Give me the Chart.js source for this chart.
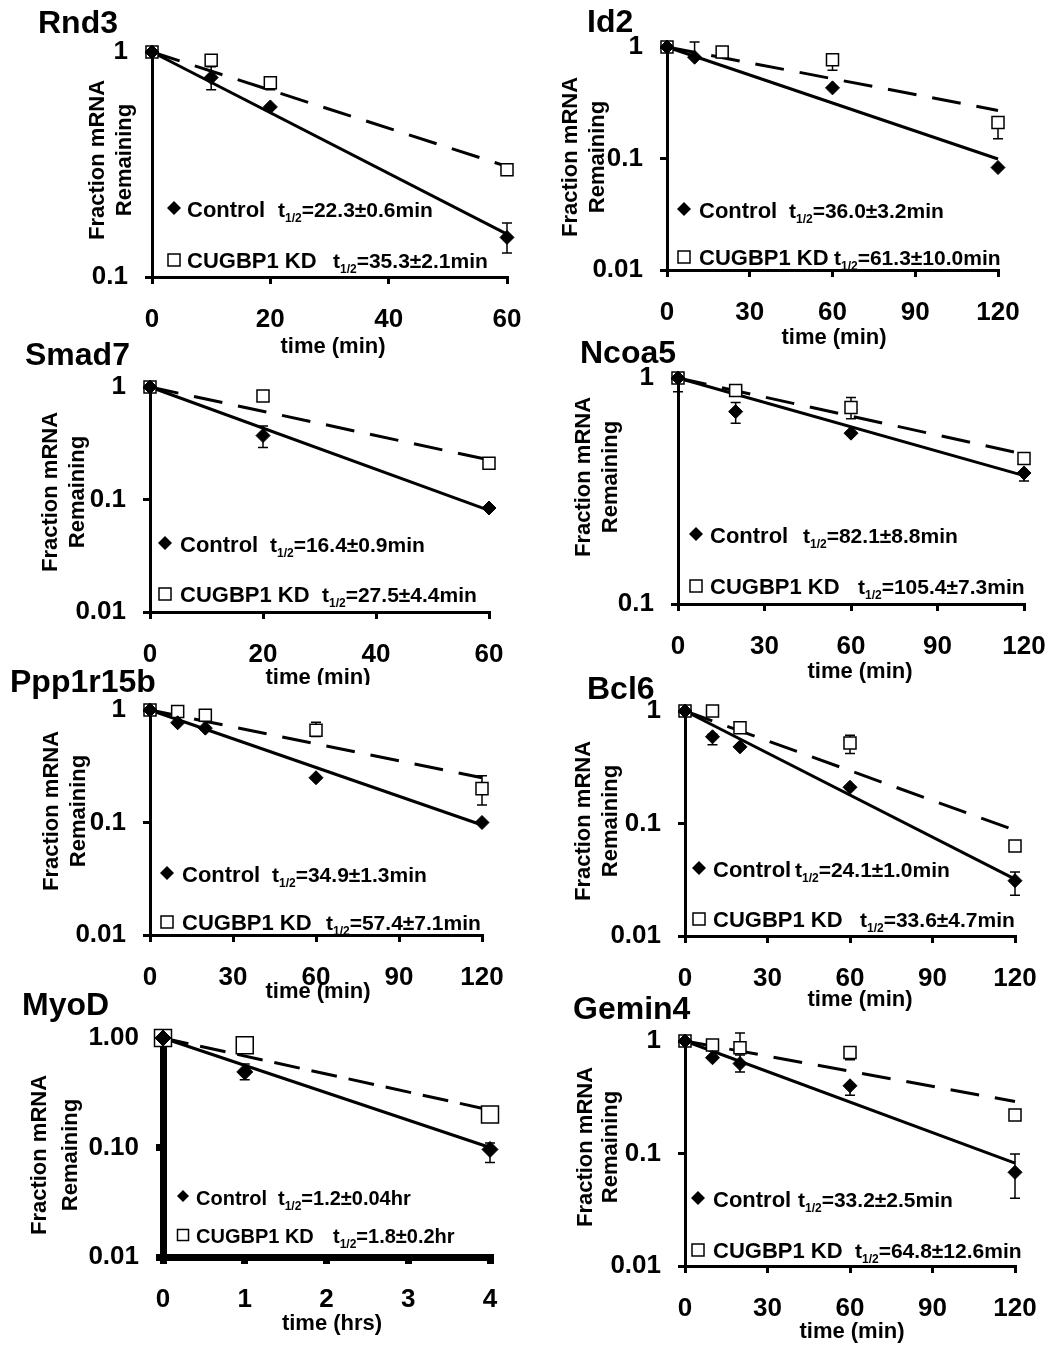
<!DOCTYPE html>
<html>
<head>
<meta charset="utf-8">
<title>mRNA decay</title>
<script src="https://cdn.jsdelivr.net/npm/chart.js@4.4.1/dist/chart.umd.min.js"></script>
<style>
  html, body { margin: 0; padding: 0; background: #fff; }
  body { width: 1062px; height: 1351px; position: relative; overflow: hidden; }
  canvas { position: absolute; }
</style>
</head>
<body>
<canvas id="rnd3"></canvas>
<canvas id="id2"></canvas>
<canvas id="smad7"></canvas>
<canvas id="ncoa5"></canvas>
<canvas id="ppp1r15b"></canvas>
<canvas id="bcl6"></canvas>
<canvas id="myod"></canvas>
<canvas id="gemin4"></canvas>
<script>
// ---- data (fraction of mRNA remaining) ----
const rnd3Time = [0, 10, 20, 60];
const rnd3Control = [1, 0.77, 0.57, 0.15];
const rnd3KD = [1, 0.92, 0.73, 0.30];
const rnd3ControlErr = [null, [0.68, 0.86], null, [0.128, 0.174]];
const rnd3KDErr = [null, null, [0.68, 0.73], null];
const rnd3ControlFit = [1, 0.155];
const rnd3KDFit = [1, 0.31];
const rnd3HalfLife = ['=22.3±0.6min', '=35.3±2.1min'];

const id2Time = [0, 10, 20, 60, 120];
const id2Control = [1, 0.81, null, 0.43, 0.083];
const id2KD = [1, null, 0.90, 0.77, 0.21];
const id2ControlErr = [null, [0.81, 1.11], null, null, null];
const id2KDErr = [null, null, null, [0.62, 0.77], [0.15, 0.21]];
const id2ControlFit = [1, 0.099];
const id2KDFit = [1, 0.27];
const id2HalfLife = ['=36.0±3.2min', '=61.3±10.0min'];

const smad7Time = [0, 20, 60];
const smad7Control = [1, 0.37, 0.084];
const smad7KD = [1, 0.83, 0.21];
const smad7ControlErr = [null, [0.29, 0.45], null];
const smad7KDErr = [null, null, null];
const smad7ControlFit = [1, 0.08];
const smad7KDFit = [1, 0.225];
const smad7HalfLife = ['=16.4±0.9min', '=27.5±4.4min'];

const ncoa5Time = [0, 20, 60, 120];
const ncoa5Control = [1, 0.71, 0.57, 0.38];
const ncoa5KD = [1, 0.88, 0.74, 0.44];
const ncoa5ControlErr = [[0.87, 1], [0.63, 0.78], null, [0.35, 0.38]];
const ncoa5KDErr = [null, null, [0.66, 0.82], null];
const ncoa5ControlFit = [1, 0.37];
const ncoa5KDFit = [1, 0.46];
const ncoa5HalfLife = ['=82.1±8.8min', '=105.4±7.3min'];

const pppTime = [0, 10, 20, 60, 120];
const pppControl = [1, 0.77, 0.69, 0.25, 0.10];
const pppKD = [1, 0.97, 0.90, 0.66, 0.20];
const pppControlErr = [null, null, null, null, null];
const pppKDErr = [null, null, null, [0.58, 0.78], [0.143, 0.26]];
const pppControlFit = [1, 0.095];
const pppKDFit = [1, 0.25];
const pppHalfLife = ['=34.9±1.3min', '=57.4±7.1min'];

const bcl6Time = [0, 10, 20, 60, 120];
const bcl6Control = [1, 0.59, 0.48, 0.21, 0.031];
const bcl6KD = [1, 1.0, 0.71, 0.52, 0.063];
const bcl6ControlErr = [null, [0.50, 0.62], null, null, [0.023, 0.037]];
const bcl6KDErr = [null, null, null, [0.42, 0.61], null];
const bcl6ControlFit = [1, 0.032];
const bcl6KDFit = [1, 0.087];
const bcl6HalfLife = ['=24.1±1.0min', '=33.6±4.7min'];

const myodTime = [0, 1, 4];
const myodControl = [1, 0.49, 0.096];
const myodKD = [1, 0.86, 0.20];
const myodControlErr = [null, [0.415, 0.58], [0.073, 0.11]];
const myodKDErr = [null, null, null];
const myodControlFit = [1, 0.10];
const myodKDFit = [1, 0.22];
const myodHalfLife = ['=1.2±0.04hr', '=1.8±0.2hr'];

const gemin4Time = [0, 10, 20, 60, 120];
const gemin4Control = [1, 0.71, 0.63, 0.40, 0.068];
const gemin4KD = [1, 0.92, 0.87, 0.79, 0.22];
const gemin4ControlErr = [null, null, [0.53, 0.75], [0.33, 0.40], [0.040, 0.099]];
const gemin4KDErr = [null, null, [0.87, 1.18], [0.68, 0.79], null];
const gemin4ControlFit = [1, 0.082];
const gemin4KDFit = [1, 0.29];
const gemin4HalfLife = ['=33.2±2.5min', '=64.8±12.6min'];

// tick values / labels
const yTicksOne = [0.1, 1];
const yLabelsOne = ['0.1', '1'];
const yTicksTwo = [0.01, 0.1, 1];
const yLabelsTwo = ['0.01', '0.1', '1'];
const yLabelsMyod = ['0.01', '0.10', '1.00'];

const FONT = "'Liberation Sans', Arial, sans-serif";
Chart.defaults.font.family = FONT;
Chart.defaults.color = '#000';

// ---- panel layout (page pixels); canvases are wide so the x labels never squeeze the plot ----
const panels = [
  { id: 'rnd3', title: 'Rnd3', box: [0, 0, 580, 365], plot: [152, 52, 507, 277],
    xMax: 60, xStep: 20, xTitle: 'time (min)', yMin: 0.1, yTicks: yTicksOne, yLabels: yLabelsOne,
    time: rnd3Time, ctrl: rnd3Control, kd: rnd3KD, ctrlErr: rnd3ControlErr, kdErr: rnd3KDErr,
    ctrlFit: rnd3ControlFit, kdFit: rnd3KDFit, half: rnd3HalfLife,
    titleAt: [38, 33], xTitleAt: [333, 347], yTitleAt: [98, 125, 160],
    legend: { mx: 174, nx: 187, b: [217, 268], tx: [278, 333] } },
  { id: 'id2', title: 'Id2', box: [531, 0, 580, 365], plot: [667, 47, 998, 270],
    xMax: 120, xStep: 30, xTitle: 'time (min)', yMin: 0.01, yTicks: yTicksTwo, yLabels: yLabelsTwo,
    time: id2Time, ctrl: id2Control, kd: id2KD, ctrlErr: id2ControlErr, kdErr: id2KDErr,
    ctrlFit: id2ControlFit, kdFit: id2KDFit, half: id2HalfLife,
    titleAt: [587, 32], xTitleAt: [834, 338], yTitleAt: [571, 598, 157],
    legend: { mx: 684, nx: 699, b: [218, 265], tx: [789, 834] } },
  { id: 'smad7', title: 'Smad7', box: [0, 335, 580, 350], plot: [150, 387, 489, 612],
    xMax: 60, xStep: 20, xTitle: 'time (min)', yMin: 0.01, yTicks: yTicksTwo, yLabels: yLabelsTwo,
    time: smad7Time, ctrl: smad7Control, kd: smad7KD, ctrlErr: smad7ControlErr, kdErr: smad7KDErr,
    ctrlFit: smad7ControlFit, kdFit: smad7KDFit, half: smad7HalfLife,
    titleAt: [25, 365], xTitleAt: [318, 678], yTitleAt: [51, 78, 492],
    legend: { mx: 165, nx: 180, b: [552, 602], tx: [270, 322] } },
  { id: 'ncoa5', title: 'Ncoa5', box: [531, 335, 580, 355], plot: [678, 378, 1024, 604],
    xMax: 120, xStep: 30, xTitle: 'time (min)', yMin: 0.1, yTicks: yTicksOne, yLabels: yLabelsOne,
    time: ncoa5Time, ctrl: ncoa5Control, kd: ncoa5KD, ctrlErr: ncoa5ControlErr, kdErr: ncoa5KDErr,
    ctrlFit: ncoa5ControlFit, kdFit: ncoa5KDFit, half: ncoa5HalfLife,
    titleAt: [580, 363], xTitleAt: [860, 672], yTitleAt: [584, 611, 477],
    legend: { mx: 696, nx: 710, b: [543, 594], tx: [803, 858] } },
  { id: 'ppp1r15b', title: 'Ppp1r15b', box: [0, 662, 580, 343], plot: [150, 710, 482, 935],
    xMax: 120, xStep: 30, xTitle: 'time (min)', yMin: 0.01, yTicks: yTicksTwo, yLabels: yLabelsTwo,
    time: pppTime, ctrl: pppControl, kd: pppKD, ctrlErr: pppControlErr, kdErr: pppKDErr,
    ctrlFit: pppControlFit, kdFit: pppKDFit, half: pppHalfLife,
    titleAt: [10, 692], xTitleAt: [318, 992], yTitleAt: [52, 79, 811],
    legend: { mx: 167, nx: 182, b: [882, 930], tx: [272, 326] } },
  { id: 'bcl6', title: 'Bcl6', box: [531, 662, 580, 350], plot: [685, 711, 1015, 936],
    xMax: 120, xStep: 30, xTitle: 'time (min)', yMin: 0.01, yTicks: yTicksTwo, yLabels: yLabelsTwo,
    time: bcl6Time, ctrl: bcl6Control, kd: bcl6KD, ctrlErr: bcl6ControlErr, kdErr: bcl6KDErr,
    ctrlFit: bcl6ControlFit, kdFit: bcl6KDFit, half: bcl6HalfLife,
    titleAt: [587, 699], xTitleAt: [860, 1000], yTitleAt: [584, 611, 821],
    legend: { mx: 699, nx: 713, b: [877, 927], tx: [795, 860] } },
  { id: 'myod', title: 'MyoD', box: [0, 985, 580, 366], plot: [163, 1038, 490, 1257], thick: true,
    xMax: 4, xStep: 1, xTitle: 'time (hrs)', yMin: 0.01, yTicks: yTicksTwo, yLabels: yLabelsMyod,
    time: myodTime, ctrl: myodControl, kd: myodKD, ctrlErr: myodControlErr, kdErr: myodKDErr,
    ctrlFit: myodControlFit, kdFit: myodKDFit, half: myodHalfLife,
    titleAt: [22, 1015], xTitleAt: [332, 1324], yTitleAt: [40, 71, 1155],
    legend: { mx: 183, nx: 196, b: [1205, 1243], tx: [278, 333] } },
  { id: 'gemin4', title: 'Gemin4', box: [531, 985, 580, 366], plot: [685, 1041, 1015, 1266],
    xMax: 120, xStep: 30, xTitle: 'time (min)', yMin: 0.01, yTicks: yTicksTwo, yLabels: yLabelsTwo,
    time: gemin4Time, ctrl: gemin4Control, kd: gemin4KD, ctrlErr: gemin4ControlErr, kdErr: gemin4KDErr,
    ctrlFit: gemin4ControlFit, kdFit: gemin4KDFit, half: gemin4HalfLife,
    titleAt: [573, 1019], xTitleAt: [852, 1332], yTitleAt: [586, 611, 1147],
    legend: { mx: 698, nx: 713, b: [1207, 1258], tx: [798, 855] } }
];
const panelById = {};
panels.forEach(p => { panelById[p.id] = p; });

function pts(xs, ys) {
  return xs.map((x, i) => ({ x: x, y: ys[i] })).filter(d => d.y != null);
}

function text(ctx, s, x, y, size, align) {
  ctx.font = 'bold ' + size + 'px ' + FONT;
  ctx.textAlign = align || 'left';
  ctx.textBaseline = 'alphabetic';
  ctx.fillText(s, x, y);
  return ctx.measureText(s).width;
}

function diamond(ctx, x, y, r) {
  ctx.beginPath();
  ctx.moveTo(x, y - r); ctx.lineTo(x + r, y); ctx.lineTo(x, y + r); ctx.lineTo(x - r, y);
  ctx.closePath();
  ctx.fillStyle = '#000';
  ctx.fill();
}

function square(ctx, x, y, s) {
  ctx.fillStyle = '#fff';
  ctx.fillRect(x - s / 2, y - s / 2, s, s);
  ctx.lineWidth = 1.5;
  ctx.strokeStyle = '#000';
  ctx.strokeRect(x - s / 2, y - s / 2, s, s);
}

// error bars under the markers, labels and legend on top
const decor = {
  id: 'decor',
  beforeDatasetsDraw(chart) {
    const p = panelById[chart.canvas.id];
    const ctx = chart.ctx, xs = chart.scales.x, ys = chart.scales.y;
    ctx.save();
    ctx.strokeStyle = '#000';
    ctx.lineWidth = 1.5;
    [p.ctrlErr, p.kdErr].forEach(errs => {
      errs.forEach((e, i) => {
        if (!e) return;
        const px = xs.getPixelForValue(p.time[i]);
        const a = ys.getPixelForValue(e[0]), b = ys.getPixelForValue(e[1]);
        ctx.beginPath();
        ctx.moveTo(px, a); ctx.lineTo(px, b);
        ctx.moveTo(px - 5, a); ctx.lineTo(px + 5, a);
        ctx.moveTo(px - 5, b); ctx.lineTo(px + 5, b);
        ctx.stroke();
      });
    });
    ctx.restore();
  },
  afterDraw(chart) {
    const p = panelById[chart.canvas.id];
    const ctx = chart.ctx;
    const ox = p.box[0], oy = p.box[1];
    ctx.save();
    ctx.fillStyle = '#000';
    text(ctx, p.title, p.titleAt[0] - ox, p.titleAt[1] - oy, 32);
    ctx.textBaseline = 'middle';
    ctx.font = 'bold 22px ' + FONT;
    ctx.textAlign = 'center';
    ctx.fillText(p.xTitle, p.xTitleAt[0] - ox, p.xTitleAt[1] - oy);
    ['Fraction mRNA', 'Remaining'].forEach((s, i) => {
      ctx.save();
      ctx.translate(p.yTitleAt[i] - ox, p.yTitleAt[2] - oy);
      ctx.rotate(-Math.PI / 2);
      ctx.textAlign = 'center';
      ctx.textBaseline = 'middle';
      ctx.font = 'bold 22px ' + FONT;
      ctx.fillText(s, 0, 0);
      ctx.restore();
    });
    // legend
    const lg = p.legend;
    const big = p.thick ? 20 : 22, mid = p.thick ? 20 : 21;
    const names = ['Control', 'CUGBP1 KD'];
    names.forEach((name, i) => {
      const b = lg.b[i] - oy;
      if (i === 0) diamond(ctx, lg.mx - ox, b - 9, p.thick ? 6 : 7);
      else square(ctx, lg.mx - ox, b - 8, p.thick ? 11 : 12);
      ctx.fillStyle = '#000';
      text(ctx, name, lg.nx - ox, b, big);
      let x = lg.tx[i] - ox;
      x += text(ctx, 't', x, b, mid);
      x += text(ctx, '1/2', x, b + 5, 12);
      text(ctx, p.half[i], x, b, mid);
    });
    ctx.restore();
  }
};

function makeChart(p) {
  const canvas = document.getElementById(p.id);
  const [cx, cy, cw, ch] = p.box;
  const [L, T, R, B] = p.plot;
  canvas.width = cw;
  canvas.height = ch;
  canvas.style.left = cx + 'px';
  canvas.style.top = cy + 'px';
  const axisW = p.thick ? 7 : 3;
  const fitX = [0, p.xMax];
  const axisCommon = {
    border: { display: true, width: axisW, color: '#000' },
    grid: { display: true, drawOnChartArea: false, drawTicks: true, tickLength: 7,
            lineWidth: axisW, color: '#000' }
  };
  new Chart(canvas, {
    type: 'scatter',
    data: {
      datasets: [{
        label: 'Control',
        data: pts(p.time, p.ctrl),
        pointStyle: 'rectRot',
        pointRadius: p.thick ? 8 : 7,
        pointBackgroundColor: '#000',
        pointBorderColor: '#000',
        pointBorderWidth: 1,
        clip: false,
        order: 0
      }, {
        label: 'CUGBP1 KD',
        data: pts(p.time, p.kd),
        pointStyle: 'rect',
        pointRadius: p.thick ? 12 : 8.5,
        pointBackgroundColor: '#fff',
        pointBorderColor: '#000',
        pointBorderWidth: 1.5,
        clip: false,
        order: 0
      }, {
        label: 'Control fit',
        data: pts(fitX, p.ctrlFit),
        showLine: true,
        pointRadius: 0,
        borderColor: '#000',
        borderWidth: 3,
        clip: false,
        order: 1
      }, {
        label: 'CUGBP1 KD fit',
        data: pts(fitX, p.kdFit),
        showLine: true,
        pointRadius: 0,
        borderColor: '#000',
        borderWidth: 3,
        borderDash: p.thick ? [26, 12] : [29, 16],
        clip: false,
        order: 1
      }]
    },
    options: {
      responsive: false,
      animation: false,
      events: [],
      layout: { padding: { left: 0, top: T - cy, right: cx + cw - R, bottom: 0 } },
      plugins: { legend: { display: false }, tooltip: { enabled: false } },
      scales: {
        x: Object.assign({
          type: 'linear',
          min: 0,
          max: p.xMax,
          ticks: { stepSize: p.xStep, padding: 20, font: { size: 26, weight: 'bold' }, color: '#000' },
          afterFit: s => { s.height = cy + ch - B; }
        }, axisCommon),
        y: Object.assign({
          type: 'logarithmic',
          min: p.yMin,
          max: 1,
          ticks: {
            padding: 17,
            font: { size: 26, weight: 'bold' },
            color: '#000',
            callback: v => p.yLabels[p.yTicks.indexOf(v)]
          },
          afterBuildTicks: s => { s.ticks = p.yTicks.map(v => ({ value: v })); },
          afterFit: s => { s.width = L - cx; }
        }, axisCommon)
      }
    },
    plugins: [decor]
  });
}

panels.forEach(makeChart);
</script>
</body>
</html>
